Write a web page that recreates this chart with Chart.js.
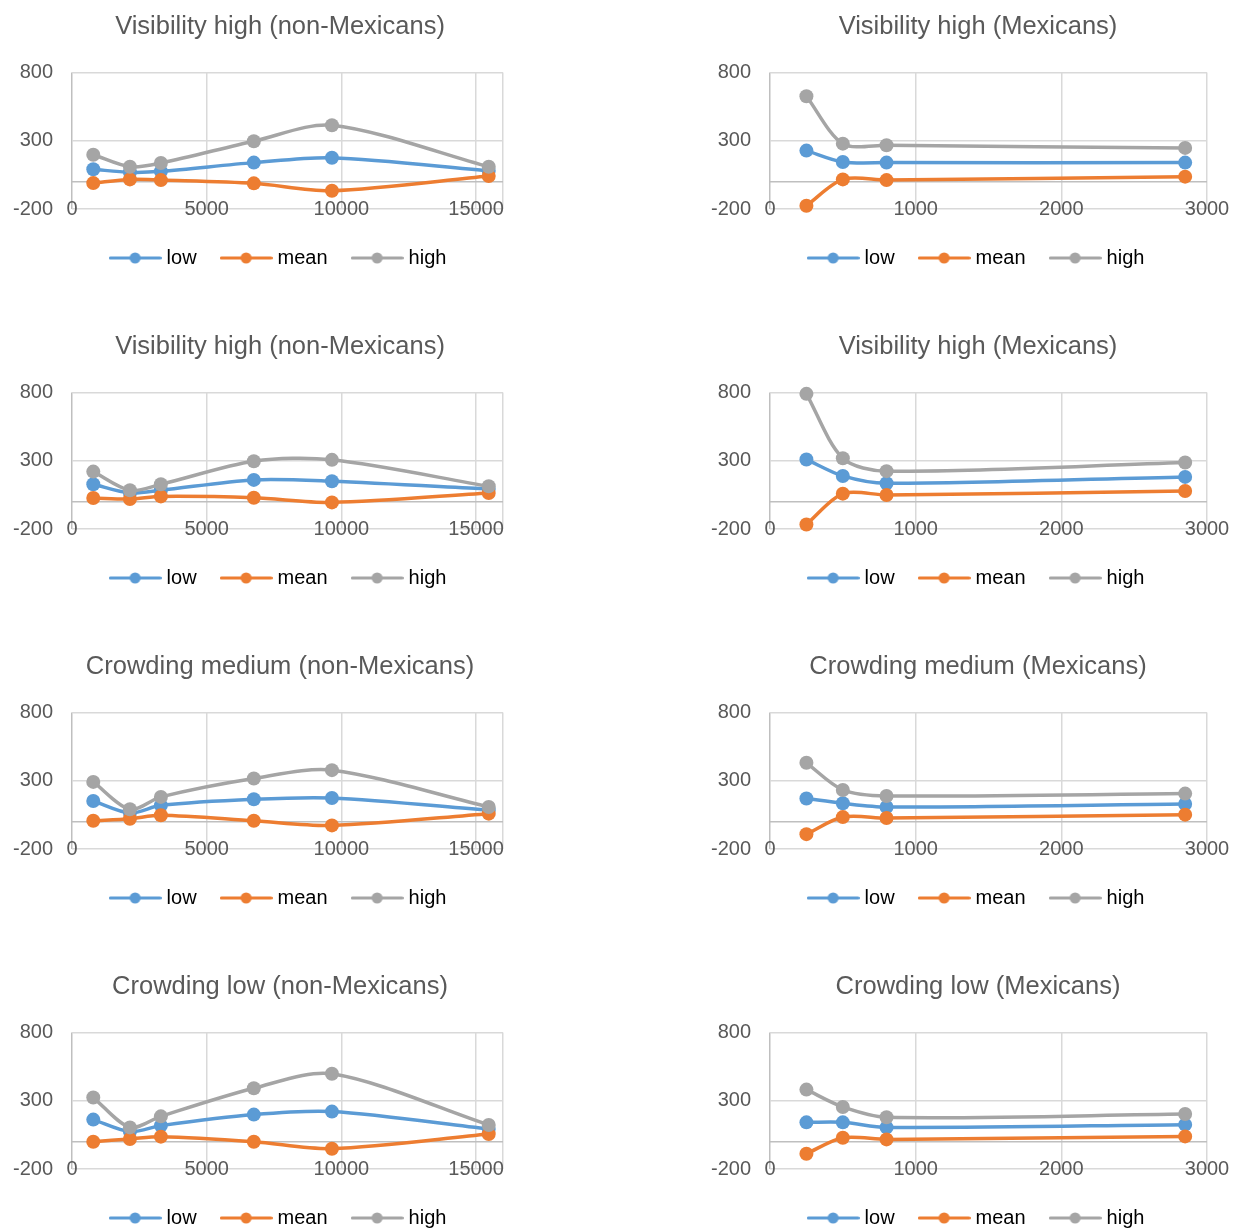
<!DOCTYPE html>
<html>
<head>
<meta charset="utf-8">
<script src="https://cdn.jsdelivr.net/npm/chart.js@4.4.1/dist/chart.umd.min.js"></script>
<style>
  html, body { margin: 0; padding: 0; background: #fff; overflow: hidden; width: 1239px; height: 1229px; }
  .cell { position: absolute; width: 560px; height: 278px; }
</style>
</head>
<body>
<script>
// distances on the x axis
const nonMexDistance = [790, 2150, 3300, 6750, 9650, 15470];
const mexDistance = [250, 500, 800, 2850];
const nonMexTicks = [0, 5000, 10000, 15000, 16000];
const mexTicks = [0, 1000, 2000, 3000];
const yTicks = [-200, 0, 300, 800];
const seriesNames = ['low', 'mean', 'high'];

const titles = [
  'Visibility high (non-Mexicans)', 'Visibility high (Mexicans)',
  'Visibility high (non-Mexicans)', 'Visibility high (Mexicans)',
  'Crowding medium (non-Mexicans)', 'Crowding medium (Mexicans)',
  'Crowding low (non-Mexicans)', 'Crowding low (Mexicans)'
];

// row 1
const visHighNonMexLow1 = [91, 69, 76, 140, 176, 80];
const visHighNonMexMean1 = [-10, 17, 12, -12, -66, 42];
const visHighNonMexHigh1 = [198, 110, 137, 297, 414, 110];
const visHighMexLow1 = [228, 145, 140, 140];
const visHighMexMean1 = [-176, 17, 12, 37];
const visHighMexHigh1 = [627, 279, 267, 248];
// row 2
const visHighNonMexLow2 = [128, 64, 84, 160, 150, 93];
const visHighNonMexMean2 = [27, 20, 39, 29, -5, 64];
const visHighNonMexHigh2 = [221, 84, 128, 297, 307, 113];
const visHighMexLow2 = [310, 189, 135, 182];
const visHighMexMean2 = [-167, 59, 49, 79];
const visHighMexHigh2 = [791, 319, 224, 287];
// row 3
const crowdMedNonMexLow = [152, 64, 120, 165, 174, 84];
const crowdMedNonMexMean = [7, 22, 47, 7, -27, 59];
const crowdMedNonMexHigh = [292, 91, 182, 317, 378, 108];
const crowdMedMexLow = [170, 135, 108, 130];
const crowdMedMexMean = [-91, 34, 27, 52];
const crowdMedMexHigh = [432, 233, 189, 206];
// row 4
const crowdLowNonMexLow = [162, 74, 118, 199, 221, 93];
const crowdLowNonMexMean = [0, 20, 37, 0, -51, 56];
const crowdLowNonMexHigh = [324, 105, 186, 392, 498, 123];
const crowdLowMexLow = [142, 142, 105, 125];
const crowdLowMexMean = [-88, 29, 17, 39];
const crowdLowMexHigh = [382, 255, 179, 203];

const colors = ['#5B9BD5', '#ED7D31', '#A5A5A5'];
const gridGrey = '#D9D9D9';
const axisGrey = '#BFBFBF';
const textGrey = '#595959';

Chart.defaults.font.family = '"Liberation Sans", Arial, sans-serif';
Chart.defaults.color = textGrey;

const panels = [
  { x: nonMexDistance, ticks: nonMexTicks, series: [visHighNonMexLow1, visHighNonMexMean1, visHighNonMexHigh1] },
  { x: mexDistance, ticks: mexTicks, series: [visHighMexLow1, visHighMexMean1, visHighMexHigh1] },
  { x: nonMexDistance, ticks: nonMexTicks, series: [visHighNonMexLow2, visHighNonMexMean2, visHighNonMexHigh2] },
  { x: mexDistance, ticks: mexTicks, series: [visHighMexLow2, visHighMexMean2, visHighMexHigh2] },
  { x: nonMexDistance, ticks: nonMexTicks, series: [crowdMedNonMexLow, crowdMedNonMexMean, crowdMedNonMexHigh] },
  { x: mexDistance, ticks: mexTicks, series: [crowdMedMexLow, crowdMedMexMean, crowdMedMexHigh] },
  { x: nonMexDistance, ticks: nonMexTicks, series: [crowdLowNonMexLow, crowdLowNonMexMean, crowdLowNonMexHigh] },
  { x: mexDistance, ticks: mexTicks, series: [crowdLowMexLow, crowdLowMexMean, crowdLowMexHigh] }
];

// line + marker sample for the legend
function legendMark(color) {
  const c = document.createElement('canvas');
  c.width = 53;
  c.height = 12;
  const g = c.getContext('2d');
  g.strokeStyle = color;
  g.lineWidth = 3;
  g.lineCap = 'round';
  g.beginPath();
  g.moveTo(1.5, 6);
  g.lineTo(51.5, 6);
  g.stroke();
  g.fillStyle = color;
  g.beginPath();
  g.arc(26.5, 6, 5.5, 0, Math.PI * 2);
  g.fill();
  return c;
}
const marks = colors.map(legendMark);

const gridColor = (ctx) => (ctx.tick && ctx.tick.value === 0 ? axisGrey : gridGrey);

panels.forEach((p, i) => {
  const col = i % 2;
  const row = Math.floor(i / 2);
  const div = document.createElement('div');
  div.className = 'cell';
  div.style.left = (col === 0 ? 0 : 698) + 'px';
  div.style.top = (row * 320) + 'px';
  const canvas = document.createElement('canvas');
  canvas.width = 560;
  canvas.height = 278;
  div.appendChild(canvas);
  document.body.appendChild(div);

  const lastTick = p.ticks[p.ticks.length - 1];
  const rightGap = col === 0 ? 57 : 51;

  const datasets = p.series.map((vals, k) => ({
    label: seriesNames[k],
    data: vals.map((v, j) => ({ x: p.x[j], y: v })),
    borderColor: colors[k],
    backgroundColor: colors[k],
    borderWidth: 3.5,
    pointRadius: 7,
    pointBorderWidth: 0,
    pointBackgroundColor: colors[k],
    tension: 0.3,
    fill: false,
    clip: false,
    order: 2 - k
  }));

  new Chart(canvas, {
    type: 'line',
    data: { datasets },
    options: {
      responsive: false,
      animation: false,
      layout: { padding: 0 },
      plugins: {
        title: {
          display: true,
          text: titles[i],
          color: textGrey,
          font: { size: 25.5, weight: 'normal' },
          padding: { top: 12, bottom: 30 }
        },
        legend: {
          position: 'bottom',
          labels: {
            usePointStyle: true,
            pointStyleWidth: 43,
            padding: 28,
            color: textGrey,
            font: { size: 20 },
            generateLabels: (chart) => chart.data.datasets.map((d, k) => ({
              text: d.label,
              fillStyle: colors[k],
              strokeStyle: colors[k],
              lineWidth: 0,
              pointStyle: marks[k],
              hidden: false,
              datasetIndex: k
            }))
          }
        },
        tooltip: { enabled: false }
      },
      scales: {
        x: {
          type: 'linear',
          min: 0,
          max: lastTick,
          afterBuildTicks: (s) => { s.ticks = p.ticks.map(v => ({ value: v })); },
          afterFit: (s) => { s.height = 11; },
          grid: { color: gridColor, lineWidth: 1.5, drawTicks: false },
          border: { display: false },
          ticks: {
            autoSkip: false,
            maxRotation: 0,
            mirror: true,
            padding: -12,
            font: { size: 20 },
            color: textGrey,
            callback: (v) => (v === 16000 ? '' : String(v))
          }
        },
        y: {
          type: 'linear',
          min: -200,
          max: 800,
          afterBuildTicks: (s) => { s.ticks = yTicks.map(v => ({ value: v })); },
          afterFit: (s) => { s.width = 72; },
          grid: { color: gridColor, lineWidth: 1.5, drawTicks: false },
          border: { display: false },
          ticks: {
            autoSkip: false,
            padding: 19,
            font: { size: 20 },
            color: textGrey,
            callback: (v) => (v === 0 ? '' : String(v))
          }
        },
        pad: {
          type: 'linear',
          position: 'right',
          display: true,
          afterFit: (s) => { s.width = rightGap; },
          grid: { display: false },
          border: { display: false },
          ticks: { display: false }
        }
      }
    }
  });
});
</script>
</body>
</html>
